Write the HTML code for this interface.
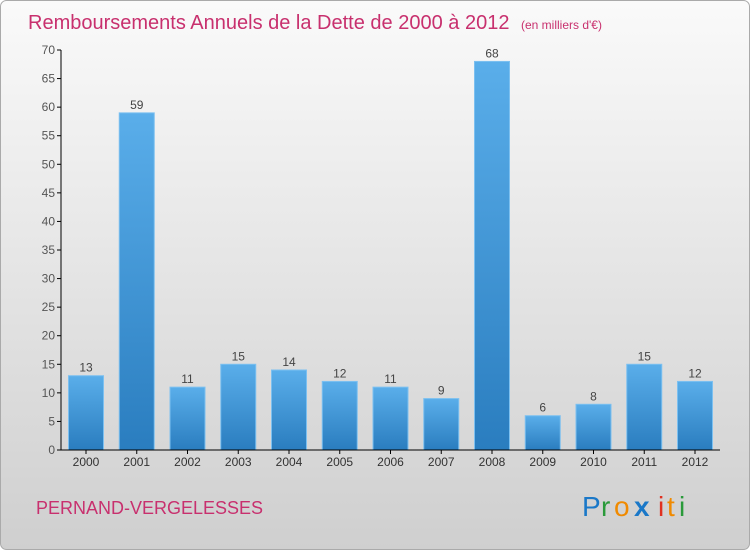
<!DOCTYPE html>
<html><head><meta charset="utf-8"><style>
html,body{margin:0;padding:0;width:750px;height:550px;overflow:hidden;font-family:"Liberation Sans",sans-serif;}
</style></head><body>
<svg width="750" height="550" xmlns="http://www.w3.org/2000/svg">
<defs>
<linearGradient id="bg" x1="0" y1="0" x2="0" y2="1"><stop offset="0" stop-color="#fafafa"/><stop offset="1" stop-color="#cfcfcf"/></linearGradient>
<linearGradient id="bar" x1="0" y1="0" x2="0" y2="1"><stop offset="0" stop-color="#5aaeea"/><stop offset="1" stop-color="#2a7dbf"/></linearGradient>
</defs>
<rect x="0.5" y="0.5" width="749" height="549" rx="6" fill="url(#bg)" stroke="#aaa"/>
<text x="28" y="29" font-size="20" fill="#c8306e">Remboursements Annuels de la Dette de 2000 à 2012 <tspan font-size="12" dx="6">(en milliers d'€)</tspan></text>
<g id="plot"></g>
<text x="36" y="514" font-size="18" fill="#c8306e">PERNAND-VERGELESSES</text>
<g font-size="28" font-family="'Liberation Sans',sans-serif">
<text x="582" y="516" fill="#1a78c8">P</text><text x="601" y="516" fill="#2a9a3a">r</text><text x="614" y="516" fill="#f08a00">o</text><text x="634" y="516" fill="#1a78c8" font-weight="bold">x</text><text x="658" y="516" fill="#e03020">i</text><text x="667" y="516" fill="#f08a00">t</text><text x="679" y="516" fill="#2a9a3a">i</text>
</g>
</svg>
<script>
const years=["2000","2001","2002","2003","2004","2005","2006","2007","2008","2009","2010","2011","2012"];
const values=[13,59,11,15,14,12,11,9,68,6,8,15,12];
const yTicks=[0,5,10,15,20,25,30,35,40,45,50,55,60,65,70];
const NS="http://www.w3.org/2000/svg";
const g=document.getElementById('plot');
const x0=61,y0=450,yTop=50,yMax=70,step=50.75,first=86,bw=35;
const y=v=>y0-(v/yMax)*(y0-yTop);
const xc=i=>first+i*step;
function mk(t,a){const e=document.createElementNS(NS,t);for(const k in a)e.setAttribute(k,a[k]);g.appendChild(e);return e;}
yTicks.forEach(t=>{
 const l=mk('line',{x1:x0-4,x2:x0,y1:y(t),y2:y(t),stroke:'#000'});
 
 
 const tx=mk('text',{x:x0-6,y:y(t)+4,'text-anchor':'end','font-size':12,fill:'#555'});
 tx.textContent=t;
 
 
});
values.forEach((v,i)=>{
 const r=mk('rect',{x:xc(i)-bw/2,y:y(v),width:bw,height:y0-y(v),fill:'url(#bar)',stroke:'#7cc0f0','stroke-width':1});
 
 
 const vt=mk('text',{x:xc(i),y:y(v)-4,'text-anchor':'middle','font-size':12,fill:'#444'});
 vt.textContent=v;
 
 
 const tk=mk('line',{x1:xc(i),x2:xc(i),y1:y0,y2:y0+4,stroke:'#000'});
 
 
 const xt=mk('text',{x:xc(i),y:y0+16,'text-anchor':'middle','font-size':12,fill:'#333'});
 xt.textContent=years[i];
 
 
});
const ya=mk('line',{x1:x0,x2:x0,y1:yTop,y2:y0,stroke:'#000'});


const xa=mk('line',{x1:x0,x2:720,y1:y0,y2:y0,stroke:'#000'});


</script>
</body></html>
